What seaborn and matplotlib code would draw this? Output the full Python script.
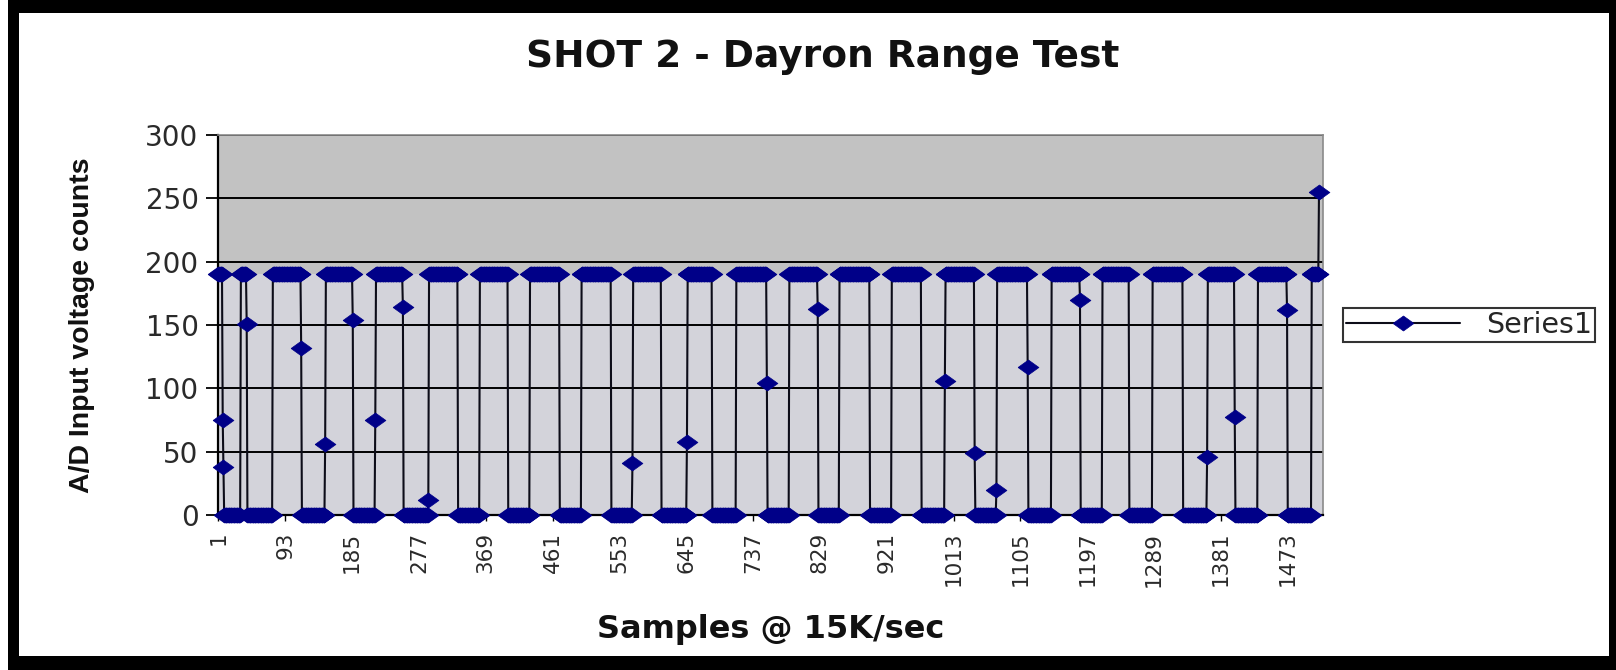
import numpy as np
import pandas as pd
import matplotlib
matplotlib.use("Agg")
import matplotlib.pyplot as plt
from matplotlib.patches import Rectangle
import seaborn as sns

# A/D counts recorded during shot 2, stored run-length encoded:
# each level is held for the matching number of consecutive samples.
run_values = [190, 75, 38, 0, 190, 151, 0, 190, 132, 0, 56, 190, 154, 0, 75, 190,
              164, 0, 12, 190, 0, 190, 0, 190, 0, 190, 0, 41, 190, 0, 58, 190,
              0, 190, 104, 0, 190, 163, 0, 190, 0, 190, 0, 106, 190, 49, 0, 20,
              190, 117, 0, 190, 170, 0, 190, 0, 190, 0, 46, 190, 77, 0, 190, 162,
              0, 190, 255]
run_lengths = [6, 1, 1, 23, 8, 1, 35, 39, 1, 32, 1, 37, 1, 30, 1, 37,
               1, 34, 1, 40, 30, 39, 30, 41, 30, 41, 29, 1, 39, 35, 1, 34,
               33, 42, 1, 30, 39, 1, 29, 42, 30, 41, 32, 1, 40, 1, 29, 1,
               42, 1, 32, 39, 1, 30, 37, 32, 42, 33, 1, 37, 1, 31, 40, 1,
               33, 10, 1]

x_tick_labels = [1, 93, 185, 277, 369, 461, 553, 645, 737, 829, 921,
                 1013, 1105, 1197, 1289, 1381, 1473]
y_ticks = [0, 50, 100, 150, 200, 250, 300]

counts = np.repeat(run_values, run_lengths)
df = pd.DataFrame({"sample": np.arange(1, len(counts) + 1), "counts": counts})
high_level = pd.Series(counts[counts > 0]).mode().iloc[0]

sns.set_theme(style="white")
plt.rcParams["font.family"] = ["DejaVu Sans"]

W, H, DPI = 1616, 670, 100
fig = plt.figure(figsize=(W / DPI, H / DPI), dpi=DPI, facecolor="white")

def px_box(x0, y0, x1, y1):
    """Axes rectangle from pixel edges (top-left origin)."""
    return [x0 / W, 1 - y1 / H, (x1 - x0) / W, (y1 - y0) / H]

ax = fig.add_axes(px_box(218, 135, 1323, 515))
ax.set_facecolor("#c2c2c2")
# lighter wash over the band the signal swings through
ax.axhspan(0, high_level, color="#d3d3da", zorder=0.5, linewidth=0)

# Excel-style wide diamond marker
diamond = [(-1.0, 0.0), (0.0, 0.72), (1.0, 0.0), (0.0, -0.72), (-1.0, 0.0)]

sns.lineplot(data=df, x="sample", y="counts", ax=ax, sort=False, estimator=None,
             color="#0c0c18", linewidth=1.5, marker=diamond, markersize=15,
             markerfacecolor="#000088", markeredgecolor="#000088",
             markeredgewidth=0.5, label="Series1", legend=False, zorder=3,
             clip_on=False)

ax.set_xlim(0.5, 1521.5)
ax.set_ylim(0, 300)
ax.set_yticks(y_ticks)
ax.set_yticklabels([str(v) for v in y_ticks], fontsize=20, color="#2a2a2a")
ax.set_xticks(x_tick_labels)
ax.set_xticklabels([str(v) for v in x_tick_labels], rotation=90, fontsize=15.5,
                   color="#2a2a2a")

ax.grid(axis="y", color="black", linewidth=1.4)
ax.grid(axis="x", visible=False)
ax.set_axisbelow(True)

for side in ("left", "bottom"):
    ax.spines[side].set_color("black")
    ax.spines[side].set_linewidth(1.6)
for side in ("top", "right"):
    ax.spines[side].set_color("#8a8a8a")
    ax.spines[side].set_linewidth(1.2)

ax.tick_params(axis="y", direction="out", length=9, width=1.3, color="black", pad=5,
               left=True)
ax.tick_params(axis="x", direction="out", length=4, width=1.0, color="black", pad=8,
               bottom=True)

ax.set_xlabel("Samples @ 15K/sec", fontsize=23, fontweight="bold",
              labelpad=20, color="#111111")
ax.set_ylabel("A/D Input voltage counts", fontsize=20.5, fontweight="bold",
              family="Liberation Sans", labelpad=36, color="#111111")

fig.text(0.5 * (508 + 1137) / W, 1 - 57 / H, "SHOT 2 - Dayron Range Test",
         ha="center", va="center", fontsize=27, fontweight="bold",
         color="#111111")

leg = ax.legend(loc="center left", bbox_to_anchor=(1343 / W, 1 - 325 / H),
                bbox_transform=fig.transFigure, frameon=True, fancybox=False,
                handlelength=4.0, borderpad=0.12, handletextpad=0.9,
                borderaxespad=0, prop={"size": 20.5})
leg.get_frame().set_edgecolor("black")
leg.get_frame().set_linewidth(1.5)
leg.get_frame().set_facecolor("white")

# Outer black frame around the chart area
for (x0, y0, x1, y1) in [(0, 0, W, 13), (0, 656, W, H), (8, 0, 19, H), (1609, 0, W, H)]:
    fig.add_artist(Rectangle((x0 / W, 1 - y1 / H), (x1 - x0) / W, (y1 - y0) / H,
                             transform=fig.transFigure, facecolor="black",
                             edgecolor="none", zorder=10))
fig.add_artist(Rectangle((0, 0), 8 / W, 1, transform=fig.transFigure,
                         facecolor="white", edgecolor="none", zorder=11))

fig.savefig("out.png", dpi=DPI, facecolor="white")
